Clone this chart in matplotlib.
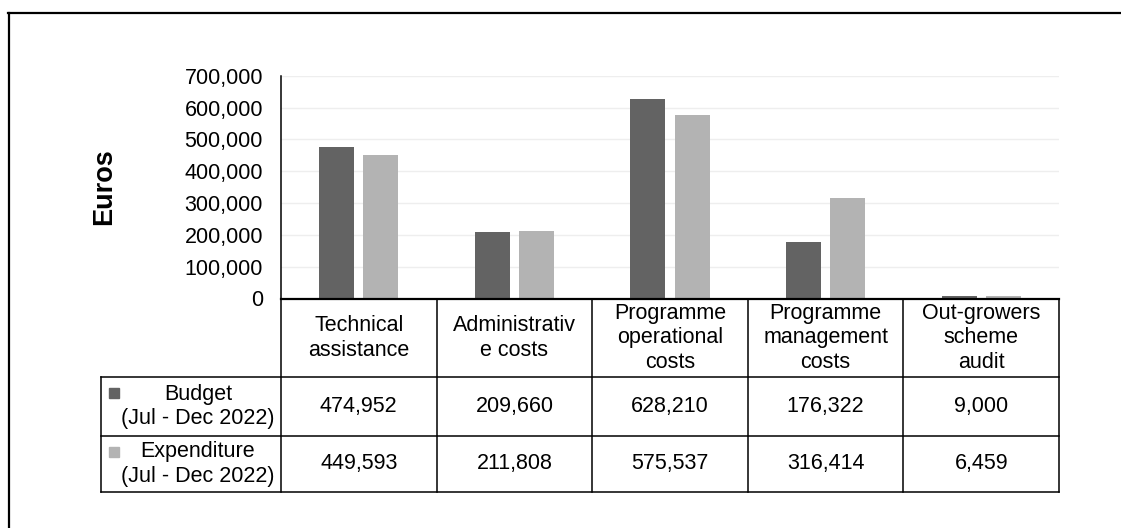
import matplotlib
matplotlib.use("Agg")
import matplotlib.pyplot as plt
from matplotlib.lines import Line2D
from matplotlib.patches import Rectangle
from matplotlib.ticker import FuncFormatter
import matplotlib.transforms as mtrans

plt.rcParams['font.family'] = ['Liberation Sans', 'DejaVu Sans']

categories = ["Technical\nassistance", "Administrativ\ne costs", "Programme\noperational\ncosts",
              "Programme\nmanagement\ncosts", "Out-growers\nscheme\naudit"]
series_names = ["Budget\n(Jul - Dec 2022)", "Expenditure\n(Jul - Dec 2022)"]
budget = [474952, 209660, 628210, 176322, 9000]
expenditure = [449593, 211808, 575537, 316414, 6459]
yticks = [0, 100000, 200000, 300000, 400000, 500000, 600000, 700000]
colors = ["#636363", "#b3b3b3"]

W, H = 1121, 528
FS = 15.5
fig = plt.figure(figsize=(W / 100, H / 100), dpi=100)
ax_l, ax_r, ax_t, ax_b = 281, 1059, 75.7, 298.5
ax = fig.add_axes([ax_l / W, 1 - ax_b / H, (ax_r - ax_l) / W, (ax_b - ax_t) / H])

n = len(categories)
xs = list(range(n))
bw = 0.225
off = 0.142
for i, (vals, c) in enumerate(zip([budget, expenditure], colors)):
    ax.bar([x + (-off if i == 0 else off) for x in xs], vals, width=bw, color=c, zorder=3)

ax.set_xlim(-0.5, n - 0.5)
ax.set_ylim(0, 700000)
ax.set_yticks(yticks)
ax.yaxis.set_major_formatter(FuncFormatter(lambda v, p: f"{int(v):,}"))
ax.tick_params(axis='y', length=0, pad=13, labelsize=FS, colors='black')
ax.set_xticks([])
ax.grid(axis='y', color='#eeeeee', lw=1, zorder=0)
for s in ['top', 'right']:
    ax.spines[s].set_visible(False)
ax.spines['left'].set_linewidth(1.1)
ax.spines['bottom'].set_linewidth(1.6)
ax.spines['left'].set_zorder(4)
ax.spines['bottom'].set_zorder(4)
ax.set_ylabel("Euros", fontsize=19.5, fontweight='bold', va='center')
ax.yaxis.set_label_coords(-0.2275, 0.502)

# --- data table ---
axh = ax_b - ax_t
def yf(px):
    return (ax_b - px) / axh
def xf(px):
    return (px - ax_l) / (ax_r - ax_l)

tr = ax.transAxes
tlw = 1.1
y_hdr_bot, y_r1_bot, y_r2_bot = yf(377), yf(436), yf(492)
x_lab_left = xf(101)

def hline(y, x0, x1):
    ax.add_line(Line2D([x0, x1], [y, y], transform=tr, color='black', lw=tlw, clip_on=False))
def vline(x, y0, y1):
    ax.add_line(Line2D([x, x], [y0, y1], transform=tr, color='black', lw=tlw, clip_on=False))

hline(y_hdr_bot, x_lab_left, 1)
hline(y_r1_bot, x_lab_left, 1)
hline(y_r2_bot, x_lab_left, 1)
vline(x_lab_left, y_hdr_bot, y_r2_bot)
for k in range(n + 1):
    vline(k / n, 0, y_r2_bot)

blend = mtrans.blended_transform_factory(ax.transData, ax.transAxes)
for i, cat in enumerate(categories):
    ax.text(i, (0 + y_hdr_bot) / 2, cat, transform=blend, ha='center', va='center',
            fontsize=FS, linespacing=1.22, clip_on=False)
    ax.text(i, (y_hdr_bot + y_r1_bot) / 2, f"{budget[i]:,}", transform=blend, ha='center',
            va='center', fontsize=FS, clip_on=False)
    ax.text(i, (y_r1_bot + y_r2_bot) / 2, f"{expenditure[i]:,}", transform=blend, ha='center',
            va='center', fontsize=FS, clip_on=False)

rows = [(y_hdr_bot, y_r1_bot), (y_r1_bot, y_r2_bot)]
sq = 10 / (ax_r - ax_l)
sqh = 10 / axh
for (yt, yb), name, c in zip(rows, series_names, colors):
    yc = (yt + yb) / 2
    ax.text(xf(198), yc, name, transform=tr, ha='center', va='center', fontsize=FS,
            linespacing=1.22, clip_on=False)
    ax.add_patch(Rectangle((xf(109), yt - (yf(377) - yf(398))), sq, sqh, transform=tr,
                           color=c, clip_on=False))

# outer border (top and left)
fig.add_artist(Line2D([8 / W, 1], [1 - 13 / H, 1 - 13 / H], color='black', lw=1.6))
fig.add_artist(Line2D([9 / W, 9 / W], [1 - 13 / H, 0], color='black', lw=1.6))

fig.savefig("out.png", dpi=100, facecolor='white')
